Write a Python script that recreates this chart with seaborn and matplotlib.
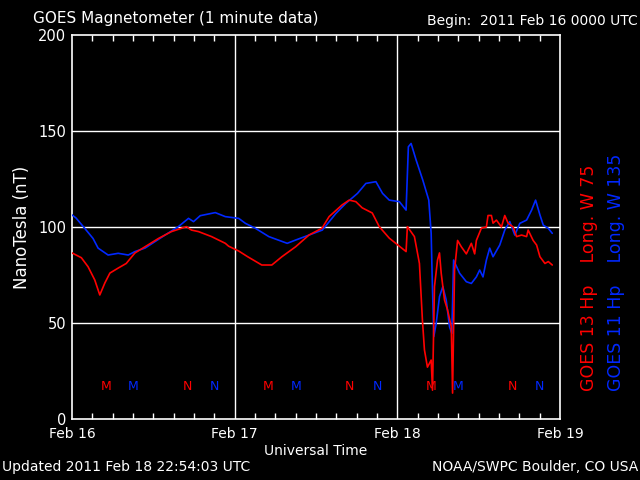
import matplotlib
matplotlib.use("Agg")
import matplotlib.pyplot as plt
import seaborn as sns
import pandas as pd
import numpy as np

# ---- data (hours since 2011 Feb 16 00:00 UT, nT) ----
red_hours = [0.0, 1.38, 2.37, 3.36, 4.10, 4.84, 5.59, 6.81, 8.0, 9.29, 10.77, 12.74, 14.67,
             16.89, 17.63, 18.67, 20.59, 22.62, 23.11, 24.59, 25.93, 28.0, 29.48, 30.96, 32.99,
             34.96, 36.89, 37.93, 39.85, 40.89, 41.88, 42.81, 44.30, 45.33, 46.81, 49.29, 49.48,
             50.52, 51.26, 51.70, 52.0, 52.44, 52.99, 53.19, 53.48, 53.93, 54.22, 54.47, 54.96,
             55.41, 55.96, 56.15, 56.44, 56.89, 57.44, 58.18, 58.92, 59.41, 59.66, 60.40, 61.14,
             61.38, 61.88, 62.12, 62.62, 63.36, 63.85, 64.34, 65.08, 65.59, 66.33, 67.07, 67.30,
             68.04, 68.55, 69.04, 69.78, 70.27, 70.86]
red_nt = [86.5, 84, 79.3, 72.4, 64.6, 70.8, 76, 78.6, 81, 86.5, 89.7, 94, 97.6,
          100.2, 98.4, 97.6, 95, 91.5, 90, 87.5, 84.5, 80.2, 80.2, 84.5, 89.7,
          95.8, 99.4, 105.4, 111.5, 114, 113.2, 110, 107.3, 100.2, 94.2, 87.2, 100.2,
          95, 81, 51.6, 36, 27, 30.7, 15, 69, 82.8, 86.5, 76, 62,
          56.8, 48, 13.5, 77.6, 93, 89.7, 86, 91.5, 86, 93, 99.4, 100,
          106, 106, 102, 103.6, 100, 106, 102, 100, 95, 95.8, 95, 98.4,
          93, 90.6, 84.5, 81, 82, 80.2]

blue_hours = [0.0, 0.59, 1.88, 3.11, 3.85, 4.59, 5.33, 6.81, 8.30, 9.29, 10.77, 12.25, 13.73,
              15.70, 17.19, 17.93, 18.92, 21.14, 22.62, 24.59, 25.59, 27.07, 29.04, 31.75, 32.99,
              34.96, 36.93, 38.92, 40.40, 42.12, 43.36, 44.84, 45.82, 46.81, 48.30, 49.29, 49.63,
              50.03, 50.77, 51.75, 52.64, 52.99, 53.14, 53.38, 53.73, 54.22, 54.71, 55.21, 55.70,
              56.04, 56.30, 57.19, 58.18, 58.92, 59.66, 60.15, 60.64, 61.14, 61.63, 62.12, 63.11,
              63.85, 64.59, 65.33, 66.07, 67.07, 67.81, 68.40, 69.04, 69.53, 70.27, 70.86]
blue_nt = [106.3, 104.7, 99.3, 94, 89, 87.2, 85.4, 86.3, 85.4, 87.2, 89, 92.4, 95.8,
           100.2, 104.5, 102.8, 105.9, 107.5, 105.4, 104.5, 101.9, 99.3, 95, 91.5, 93.2,
           95.8, 98.4, 107, 112.3, 117.5, 122.7, 123.6, 117.5, 114, 113.2, 108.8, 141.8,
           143.5, 134.9, 124.5, 114, 96.7, 74, 42.9, 49.8, 63.7, 69, 62, 48,
           44.6, 82.8, 75.9, 71.5, 70.6, 74, 77.6, 74, 82.8, 89, 84.5, 90.6,
           98.4, 102.8, 95.8, 101.9, 103.6, 108.8, 114, 106.3, 101, 99.3, 96.7]

# local midnight (M) / noon (N) markers
red_m_hours = [5, 29, 53]
red_n_hours = [17, 41, 65]
blue_m_hours = [9, 33, 57]
blue_n_hours = [21, 45, 69]
marker_level = 17

x_tick_hours = [0, 24, 48, 72]
x_tick_labels = ["Feb 16", "Feb 17", "Feb 18", "Feb 19"]
y_ticks = [0, 50, 100, 150, 200]

RED = "#ff0000"
BLUE = "#0028ff"

sns.set_theme(style="dark", rc={
    "figure.facecolor": "black", "axes.facecolor": "black",
    "axes.edgecolor": "white", "text.color": "white",
    "xtick.color": "white", "ytick.color": "white",
})
plt.rcParams["font.family"] = ["DejaVu Sans"]

fig = plt.figure(figsize=(6.4, 4.8), dpi=100)
ax = fig.add_axes([72 / 640, 61 / 480, 488 / 640, 384 / 480])

df_red = pd.DataFrame({"hour": red_hours, "nT": red_nt})
df_blue = pd.DataFrame({"hour": blue_hours, "nT": blue_nt})
sns.lineplot(data=df_blue, x="hour", y="nT", ax=ax, color=BLUE, lw=1.2,
             sort=False, estimator=None, zorder=3)
sns.lineplot(data=df_red, x="hour", y="nT", ax=ax, color=RED, lw=1.2,
             sort=False, estimator=None, zorder=4)

for h in red_m_hours:
    ax.text(h, marker_level, "M", color=RED, ha="center", va="center", fontsize=9, zorder=5)
for h in red_n_hours:
    ax.text(h, marker_level, "N", color=RED, ha="center", va="center", fontsize=9, zorder=5)
for h in blue_m_hours:
    ax.text(h, marker_level, "M", color=BLUE, ha="center", va="center", fontsize=9, zorder=5)
for h in blue_n_hours:
    ax.text(h, marker_level, "N", color=BLUE, ha="center", va="center", fontsize=9, zorder=5)

ax.set_xlim(0, 72)
ax.set_ylim(0, 200)
ax.grid(False)
for v in [24, 48]:
    ax.axvline(v, color="white", lw=1.0, zorder=2)
for v in [50, 100, 150]:
    ax.axhline(v, color="white", lw=1.0, zorder=2)

ax.set_xticks(x_tick_hours)
ax.set_xticklabels(x_tick_labels, fontsize=10)
ax.set_xticks(np.arange(0, 73, 3), minor=True)
ax.tick_params(axis="x", which="both", direction="in", top=True, bottom=True,
               length=4, width=1, colors="white", pad=6)
ax.tick_params(axis="x", which="major", length=0)
ax.set_yticks(y_ticks)
ax.set_yticklabels([str(v) for v in y_ticks], fontsize=10.5)
ax.tick_params(axis="y", which="both", length=0, pad=4, colors="white")
for s in ax.spines.values():
    s.set_color("white")
    s.set_linewidth(1.2)

ax.set_xlabel("Universal Time", fontsize=10, color="white", labelpad=2)
ax.set_ylabel("NanoTesla (nT)", fontsize=12, color="white", labelpad=5)

fig.text(33 / 640, 1 - 18 / 480, "GOES Magnetometer (1 minute data)", fontsize=11,
         ha="left", va="center", color="white")
fig.text(638 / 640, 1 - 21 / 480, "Begin:  2011 Feb 16 0000 UTC", fontsize=10,
         ha="right", va="center", color="white")
fig.text(2 / 640, 1 - 467 / 480, "Updated 2011 Feb 18 22:54:03 UTC", fontsize=10,
         ha="left", va="center", color="white")
fig.text(638 / 640, 1 - 467 / 480, "NOAA/SWPC Boulder, CO USA", fontsize=10,
         ha="right", va="center", color="white")
fig.text(589 / 640, 1 - 391 / 480, "GOES 13 Hp    Long. W 75", fontsize=12.5, rotation=90,
         ha="center", va="bottom", color=RED)
fig.text(616 / 640, 1 - 391 / 480, "GOES 11 Hp    Long. W 135", fontsize=12.5, rotation=90,
         ha="center", va="bottom", color=BLUE)

fig.savefig("out.png", dpi=100, facecolor="black")
